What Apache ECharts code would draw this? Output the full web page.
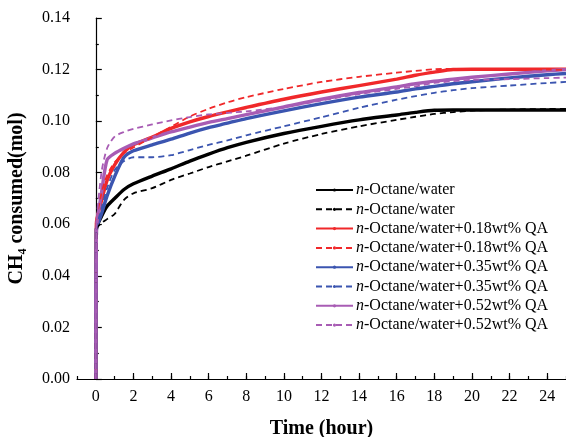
<!DOCTYPE html>
<html><head><meta charset="utf-8">
<script src="https://cdn.jsdelivr.net/npm/echarts@6/dist/echarts.min.js"></script>
<style>html,body{margin:0;padding:0;background:#fff}#c{width:566px;height:437px}</style>
</head><body><div id="c"></div>
<script>
var T = [0, 0.03, 0.3, 0.6, 1, 1.5, 2, 3, 4, 5, 6, 7, 8, 10, 12, 14, 16, 17, 18, 19, 20, 22, 24, 25];
var blackSolid  = [0, 0.058, 0.063, 0.067, 0.070, 0.0735, 0.0757, 0.0787, 0.0815, 0.0845, 0.0872, 0.0897, 0.0918, 0.0952, 0.098, 0.1005, 0.1024, 0.1034, 0.1042, 0.1043, 0.1043, 0.1043, 0.1043, 0.1043];
var blackDashed = [0, 0.058, 0.0605, 0.062, 0.064, 0.0695, 0.072, 0.074, 0.0772, 0.0797, 0.0822, 0.0844, 0.0866, 0.0913, 0.095, 0.098, 0.1005, 0.1017, 0.1028, 0.1035, 0.1041, 0.1045, 0.1047, 0.1047];
var redSolid    = [0, 0.0603, 0.069, 0.077, 0.083, 0.088, 0.0908, 0.0938, 0.0972, 0.0997, 0.1018, 0.1036, 0.1053, 0.1085, 0.1113, 0.1138, 0.1163, 0.1178, 0.119, 0.1200, 0.1201, 0.1201, 0.1201, 0.1201];
var redDashed   = [0, 0.0605, 0.072, 0.079, 0.084, 0.0875, 0.0898, 0.0938, 0.0978, 0.1018, 0.1048, 0.1073, 0.1093, 0.1125, 0.1152, 0.1172, 0.1188, 0.1195, 0.1201, 0.1203, 0.1203, 0.1201, 0.120, 0.1198];
var blueSolid   = [0, 0.0578, 0.064, 0.071, 0.0785, 0.086, 0.0885, 0.0908, 0.093, 0.0954, 0.0975, 0.0992, 0.101, 0.104, 0.1068, 0.1093, 0.1113, 0.1125, 0.1135, 0.1145, 0.1153, 0.1168, 0.118, 0.1185];
var blueDashed  = [0, 0.0578, 0.066, 0.074, 0.081, 0.0845, 0.086, 0.086, 0.0868, 0.0888, 0.0908, 0.0925, 0.0945, 0.098, 0.1015, 0.1052, 0.1083, 0.1097, 0.111, 0.112, 0.1128, 0.1138, 0.1148, 0.1152];
var purpleSolid = [0, 0.058, 0.072, 0.085, 0.0875, 0.0895, 0.0912, 0.0935, 0.0958, 0.0977, 0.0995, 0.101, 0.1025, 0.1055, 0.1085, 0.1111, 0.1133, 0.1145, 0.1155, 0.1163, 0.117, 0.1183, 0.1195, 0.12];
var purpleDashed= [0, 0.058, 0.08, 0.0895, 0.094, 0.0958, 0.097, 0.0987, 0.1003, 0.1016, 0.1026, 0.1032, 0.1038, 0.1055, 0.108, 0.1105, 0.1125, 0.1135, 0.1148, 0.1155, 0.116, 0.1163, 0.1167, 0.1169];
var legendLabels = ['n-Octane/water', 'n-Octane/water', 'n-Octane/water+0.18wt% QA', 'n-Octane/water+0.18wt% QA',
  'n-Octane/water+0.35wt% QA', 'n-Octane/water+0.35wt% QA', 'n-Octane/water+0.52wt% QA', 'n-Octane/water+0.52wt% QA'];
var xTickLabels = [0, 2, 4, 6, 8, 10, 12, 14, 16, 18, 20, 22, 24];
var yTickLabels = ['0.00','0.02','0.04','0.06','0.08','0.10','0.12','0.14'];

var seriesDefs = [
  {v: blackSolid, c: '#000000', dash: false},
  {v: blackDashed, c: '#000000', dash: true},
  {v: redSolid, c: '#f0282a', dash: false},
  {v: redDashed, c: '#f0282a', dash: true},
  {v: blueSolid, c: '#3b55b0', dash: false},
  {v: blueDashed, c: '#3b55b0', dash: true},
  {v: purpleSolid, c: '#a85cb4', dash: false},
  {v: purpleDashed, c: '#a85cb4', dash: true}
];
var FONT = '"Liberation Serif", "Times New Roman", serif';
var series = seriesDefs.map(function (d, i) {
  return {
    name: 's' + i,
    type: 'line',
    xAxisIndex: 0,
    data: T.map(function (t, k) { return [t, d.v[k]]; }),
    smooth: 0.25,
    symbol: 'circle',
    symbolSize: 3,
    showSymbol: false,
    color: d.c,
    lineStyle: {color: d.c, width: d.dash ? 1.8 : 3.4, type: d.dash ? [6, 4] : 'solid'},
    z: d.dash ? 3 : 2
  };
});
var chart = echarts.init(document.getElementById('c'));
chart.setOption({
  animation: false,
  backgroundColor: '#ffffff',
  grid: {left: 77, right: 0, top: 18, bottom: 58, containLabel: false, outerBoundsMode: 'none'},
  legend: {
    orient: 'vertical', left: 310, top: 177,
    itemWidth: 37, itemHeight: 4, itemGap: 3.3,
    data: series.map(function (s) { return s.name; }),
    formatter: function (name) {
      var idx = parseInt(name.slice(1), 10);
      var lab = legendLabels[idx];
      return '{it|' + lab.charAt(0) + '}' + lab.slice(1);
    },
    textStyle: {fontFamily: FONT, fontSize: 16, color: '#000', padding: [0, 0, 0, -2],
      rich: {it: {fontStyle: 'italic', fontFamily: FONT, fontSize: 16, color: '#000'}}}
  },
  xAxis: [{
    type: 'value', min: -1, max: 25, interval: 1,
    axisLine: {show: true, onZero: false, lineStyle: {color: '#000', width: 1.2}},
    axisTick: {show: true, inside: true, length: 6, customValues: xTickLabels, lineStyle: {color: '#000', width: 1.2}},
    axisLabel: {customValues: xTickLabels, fontFamily: FONT, fontSize: 16, color: '#000', margin: 10},
    splitLine: {show: false},
    name: 'Time (hour)', nameLocation: 'middle', nameGap: 40,
    nameTextStyle: {fontFamily: FONT, fontSize: 20, fontWeight: 'bold', color: '#000'}
  }, {
    type: 'value', min: -1, max: 25, interval: 1, position: 'bottom',
    axisLine: {show: false},
    axisTick: {show: true, inside: true, length: 3, lineStyle: {color: '#000', width: 1.2}},
    axisLabel: {show: false},
    splitLine: {show: false}
  }],
  yAxis: {
    type: 'value', min: 0, max: 0.14, interval: 0.02,
    axisLine: {show: true, lineStyle: {color: '#000', width: 1.2}},
    axisTick: {show: true, inside: true, length: 6, lineStyle: {color: '#000', width: 1.2}},
    minorTick: {show: true, splitNumber: 2, length: 3, lineStyle: {color: '#000', width: 1.2}},
    axisLabel: {fontFamily: FONT, fontSize: 16, color: '#000', margin: 7,
      formatter: function (v) { return yTickLabels[Math.round(v / 0.02)]; }},
    splitLine: {show: false},
    name: 'CH₄ consumed(mol)', nameLocation: 'middle', nameGap: 50, nameRotate: 90,
    nameTextStyle: {fontFamily: FONT, fontSize: 20, fontWeight: 'bold', color: '#000'}
  },
  series: series
});
</script></body></html>
